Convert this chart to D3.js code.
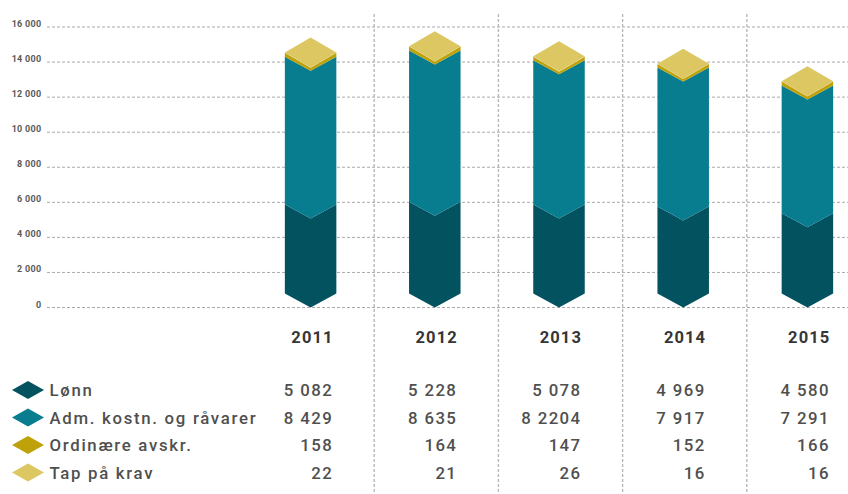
<!DOCTYPE html>
<html>
<head>
<meta charset="utf-8">
<script src="https://cdn.jsdelivr.net/npm/d3@7/dist/d3.min.js"></script>
<style>
  html, body { margin: 0; padding: 0; background: #fff; }
  svg { display: block; }
  text { font-family: Roboto, sans-serif; }
</style>
</head>
<body>
<svg id="chart" width="848" height="494"></svg>
<script>
// Operating cost per year, stacked as isometric columns
const years = ["2011", "2012", "2013", "2014", "2015"];
const seriesNames = ["Lønn", "Adm. kostn. og råvarer", "Ordinære avskr.", "Tap på krav"];
const lonn = [5082, 5228, 5078, 4969, 4580];
const adm = [8429, 8635, 8220.4, 7917, 7291];
const avskr = [158, 164, 147, 152, 166];
const tap = [22, 21, 26, 16, 16];
const lonnLabels = ["5 082", "5 228", "5 078", "4 969", "4 580"];
const admLabels = ["8 429", "8 635", "8 2204", "7 917", "7 291"];
const avskrLabels = ["158", "164", "147", "152", "166"];
const tapLabels = ["22", "21", "26", "16", "16"];
const yTicks = [0, 2000, 4000, 6000, 8000, 10000, 12000, 14000, 16000];
const colors = ["#03525f", "#077d8f", "#bfa20a", "#dcc763"];

const allSeries = [lonn, adm, avskr, tap];
const allLabels = [lonnLabels, admLabels, avskrLabels, tapLabels];

const svg = d3.select("#chart");
const textColor = "#4f4f4f";
const gridColor = "#a9a9a9";

const y = d3.scaleLinear().domain([0, 16000]).range([307.5, 27]);
const x = d3.scaleBand().domain(years).range([250, 871]).paddingInner(0).paddingOuter(0);
const barW = 51.5, rise = 14, capRise = 15;
const colX = d => x(d) + x.bandwidth() / 2 - 1.5;

// Horizontal grid
svg.append("g").selectAll("line").data(yTicks).join("line")
  .attr("x1", 47).attr("x2", 848)
  .attr("y1", d => y(d)).attr("y2", d => y(d))
  .attr("stroke", gridColor).attr("stroke-width", 1).attr("stroke-dasharray", "3 2");

// Vertical separators between the year columns
svg.append("g").selectAll("line").data(years.slice(1)).join("line")
  .attr("x1", d => x(d)).attr("x2", d => x(d))
  .attr("y1", 14).attr("y2", 493)
  .attr("stroke", "#b8b8b8").attr("stroke-width", 1.4).attr("stroke-dasharray", "3 2");

// Y tick labels
svg.append("g").selectAll("text").data(yTicks).join("text")
  .attr("x", 41.5).attr("y", d => y(d))
  .attr("text-anchor", "end").attr("font-size", 9).attr("font-weight", 700)
  .attr("letter-spacing", 0.3)
  .attr("fill", "#5a5a5a").text(d => d === 0 ? "0" : d3.format(",")(d).replace(",", " "));

// Columns: each layer is a chevron-bottomed block, the last one gets a diamond cap
const stacks = years.map((_, i) => {
  let acc = 0;
  return allSeries.map(s => { const base = acc; acc += s[i]; return [base, acc]; });
});
const cols = svg.append("g").selectAll("g").data(years).join("g")
  .attr("transform", d => `translate(${colX(d)},0)`);

const layerPath = ([v0, v1], k) => {
  const a = y(v0), b = y(v1), h = barW / 2;
  const ra = k >= 3 ? capRise : rise;
  const rb = k >= 2 ? capRise : rise;
  return `M${-h},${a - ra}L0,${a}L${h},${a - ra}L${h},${b - rb}L0,${b}L${-h},${b - rb}Z`;
};
cols.each(function (yr, i) {
  const g = d3.select(this);
  g.selectAll("path.layer").data(stacks[i]).join("path")
    .attr("class", "layer")
    .attr("d", layerPath)
    .attr("fill", (_, k) => colors[k]);
  const top = y(stacks[i][3][1]), h = barW / 2;
  g.append("path")
    .attr("d", `M${-h},${top - capRise}L0,${top}L${h},${top - capRise}L0,${top - 2 * capRise}Z`)
    .attr("fill", colors[3]);
});

// Year headings
svg.append("g").selectAll("text").data(years).join("text")
  .attr("x", d => colX(d) + 23)
  .attr("y", 343)
  .attr("text-anchor", "end").attr("font-size", 16.5).attr("font-weight", 700)
  .attr("letter-spacing", 1.1).attr("fill", "#363636").text(d => d);

// Legend rows and their value table
const rowY = [390, 417.5, 445, 472.5];
const rows = svg.append("g").selectAll("g").data(seriesNames).join("g")
  .attr("transform", (_, k) => `translate(0,${rowY[k]})`);
rows.append("path")
  .attr("d", "M12,0L28,-9L44,0L28,9Z")
  .attr("fill", (_, k) => colors[k]);
rows.append("text")
  .attr("x", 49.5).attr("y", 6)
  .attr("font-size", 16.8).attr("font-weight", 500).attr("letter-spacing", 1.7)
  .attr("fill", textColor).text(d => d);
rows.each(function (_, k) {
  d3.select(this).selectAll("text.val").data(allLabels[k]).join("text")
    .attr("class", "val")
    .attr("x", (_, i) => colX(years[i]) + 22.5)
    .attr("y", 6)
    .attr("text-anchor", "end").attr("font-size", 16.8).attr("font-weight", 500)
    .attr("letter-spacing", 1.4).attr("fill", textColor).text(d => d);
});
</script>
</body>
</html>
